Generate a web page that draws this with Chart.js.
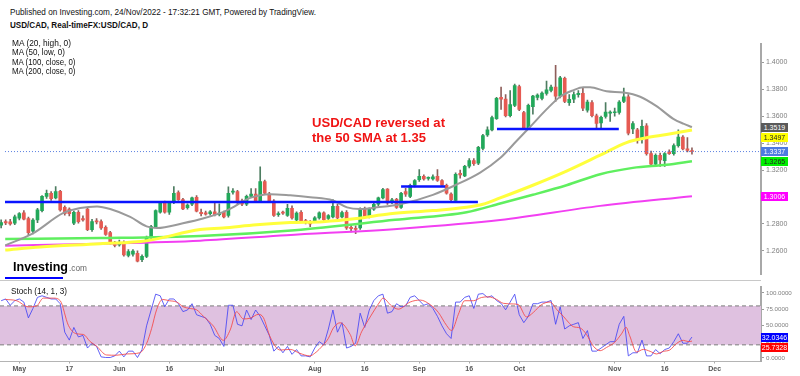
<!DOCTYPE html>
<html><head><meta charset="utf-8">
<script src="https://cdn.jsdelivr.net/npm/chart.js@4.4.0/dist/chart.umd.min.js"></script>
<style>
html,body{margin:0;padding:0;background:#fff;}
body{width:800px;height:376px;position:relative;overflow:hidden;font-family:"Liberation Sans",Arial,sans-serif;}
.t{position:absolute;white-space:nowrap;transform-origin:0 50%;color:#111;}
canvas{position:absolute;left:0;}
.tag{position:absolute;left:761px;width:27px;height:9px;line-height:9px;text-align:center;font-size:7px;overflow:hidden;}
</style></head><body>
<canvas id="main" width="800" height="243" style="top:38px;width:800px;height:243px"></canvas>
<canvas id="stoch" width="800" height="95" style="top:281px;width:800px;height:95px"></canvas>
<div style="position:absolute;left:0;top:280px;width:761px;height:1px;background:#c8c8c8"></div>
<div class="t" data-w="306" style="left:10px;top:7.5px;font-size:9px;line-height:9px">Published on Investing.com, 24/Nov/2022 - 17:32:21 GMT, Powered by TradingView.</div>
<div class="t" data-w="138" style="left:10px;top:21px;font-size:9px;line-height:9px;font-weight:bold">USD/CAD, Real-timeFX:USD/CAD, D</div>
<div class="t" data-w="59" style="left:11.5px;top:38.5px;font-size:9px;line-height:9px">MA (20, high, 0)</div>
<div class="t" data-w="53" style="left:11.5px;top:48px;font-size:9px;line-height:9px">MA (50, low, 0)</div>
<div class="t" data-w="63.5" style="left:11.5px;top:57.5px;font-size:9px;line-height:9px">MA (100, close, 0)</div>
<div class="t" data-w="63.5" style="left:11.5px;top:66.5px;font-size:9px;line-height:9px">MA (200, close, 0)</div>
<div class="t" data-w="133" style="left:312px;top:115.8px;font-size:13px;line-height:13px;font-weight:bold;color:#f01414">USD/CAD reversed at</div>
<div class="t" data-w="114" style="left:312px;top:130.8px;font-size:13px;line-height:13px;font-weight:bold;color:#f01414">the 50 SMA at 1.35</div>
<div class="t" data-w="56" style="left:11px;top:286.5px;font-size:9px;line-height:9px">Stoch (14, 1, 3)</div>
<div class="t" data-w="55" style="left:13px;top:259.5px;font-size:13px;line-height:13px;font-weight:bold;color:#000">Investing</div>
<div class="t" data-w="18" style="left:68.5px;top:263.5px;font-size:9px;line-height:9px;color:#666">.com</div>
<div style="position:absolute;left:5px;top:277px;width:58px;height:2px;background:#0000ff"></div>
<script>
// ---------- data ----------
const firstIdx = -4; // trading-day index of first candle (0 = 2 May 2022)
const opens = [
1.2790,1.2817,1.2815,1.2805,1.2842,1.2882,1.2840,1.2747,1.2829,1.2899,
1.3005,1.3028,1.2993,1.3042,1.2923,1.2911,1.2805,1.2887,1.2840,1.2911,
1.2758,1.2820,1.2817,1.2775,1.2735,1.2660,1.2645,1.2660,1.2567,1.2575,
1.2582,1.2535,1.2559,1.2700,1.2780,1.2887,1.2958,1.2887,1.2958,1.3033,
1.2980,1.2920,1.2946,1.2998,1.2887,1.2882,1.2876,1.2890,1.2868,1.2887,
1.2864,1.3035,1.3040,1.2970,1.2946,1.3005,1.3022,1.2970,1.3115,1.3022,
1.2970,1.2868,1.2882,1.2864,1.2915,1.2829,1.2887,1.2825,1.2815,1.2820,
1.2845,1.2882,1.2840,1.2852,1.2930,1.2852,1.2887,1.2775,1.2768,1.2770,
1.2910,1.2855,1.2910,1.2946,1.2993,1.3058,1.2965,1.2982,1.2923,1.3040,
1.3005,1.3087,1.3128,1.3153,1.3138,1.3134,1.3153,1.3122,1.3087,1.3022,
1.2975,1.3175,1.3157,1.3228,1.3270,1.3250,1.3360,1.3460,1.3498,1.3582,
1.3740,1.3727,1.3603,1.3680,1.3820,1.3627,1.3510,1.3670,1.3739,1.3732,
1.3768,1.3791,1.3815,1.3749,1.3880,1.3700,1.3725,1.3760,1.3770,1.3645,
1.3700,1.3603,1.3550,1.3598,1.3622,1.3625,1.3627,1.3709,1.3744,1.3505,
1.3498,1.3430,1.3528,1.3322,1.3244,1.3310,1.3270,1.3335,1.3322,1.3381,
1.3445,1.3357,1.3340];
const highs = [
1.2830,1.2830,1.2835,1.2865,1.2885,1.2900,1.2850,1.2840,1.2915,1.3010,
1.3052,1.3040,1.3077,1.3050,1.2935,1.2920,1.2895,1.2900,1.2860,1.2920,
1.2835,1.2840,1.2830,1.2785,1.2745,1.2670,1.2680,1.2675,1.2610,1.2610,
1.2600,1.2570,1.2710,1.2790,1.2905,1.2965,1.2970,1.2965,1.3077,1.3045,
1.2990,1.2950,1.3000,1.3010,1.2910,1.2895,1.2900,1.2958,1.2950,1.2895,
1.3075,1.3063,1.3050,1.2985,1.3015,1.3063,1.3063,1.3223,1.3125,1.3035,
1.2980,1.2890,1.2895,1.2945,1.2935,1.2890,1.2900,1.2835,1.2825,1.2855,
1.2890,1.2890,1.2870,1.2980,1.2945,1.2895,1.2900,1.2790,1.2785,1.2920,
1.2925,1.2920,1.2955,1.3000,1.3065,1.3062,1.2990,1.2990,1.3035,1.3065,
1.3095,1.3130,1.3204,1.3165,1.3150,1.3165,1.3204,1.3130,1.3095,1.3030,
1.3180,1.3200,1.3235,1.3285,1.3285,1.3375,1.3465,1.3520,1.3600,1.3740,
1.3815,1.3760,1.3790,1.3838,1.3830,1.3635,1.3690,1.3755,1.3765,1.3780,
1.3860,1.3830,1.3977,1.3895,1.3890,1.3760,1.3780,1.3790,1.3808,1.3720,
1.3715,1.3615,1.3600,1.3700,1.3640,1.3660,1.3715,1.3808,1.3760,1.3560,
1.3510,1.3570,1.3545,1.3340,1.3320,1.3325,1.3330,1.3350,1.3395,1.3498,
1.3455,1.3440,1.3365];
const lows = [
1.2770,1.2795,1.2790,1.2795,1.2830,1.2830,1.2720,1.2725,1.2810,1.2890,
1.2990,1.2975,1.2985,1.2895,1.2865,1.2860,1.2795,1.2805,1.2820,1.2750,
1.2745,1.2800,1.2760,1.2715,1.2650,1.2630,1.2635,1.2560,1.2555,1.2560,
1.2518,1.2520,1.2550,1.2690,1.2775,1.2880,1.2880,1.2870,1.2950,1.2975,
1.2905,1.2910,1.2935,1.2890,1.2860,1.2865,1.2865,1.2860,1.2860,1.2845,
1.2850,1.3020,1.2950,1.2935,1.2935,1.2995,1.2960,1.2960,1.3020,1.2960,
1.2855,1.2855,1.2870,1.2855,1.2835,1.2820,1.2810,1.2800,1.2780,1.2810,
1.2835,1.2825,1.2830,1.2845,1.2835,1.2845,1.2760,1.2740,1.2728,1.2760,
1.2850,1.2845,1.2900,1.2935,1.2985,1.2945,1.2950,1.2915,1.2915,1.3005,
1.2995,1.3075,1.3115,1.3125,1.3125,1.3125,1.3115,1.3080,1.3020,1.2960,
1.2960,1.3140,1.3150,1.3215,1.3235,1.3240,1.3350,1.3450,1.3490,1.3575,
1.3650,1.3595,1.3595,1.3670,1.3640,1.3502,1.3505,1.3615,1.3720,1.3720,
1.3755,1.3780,1.3709,1.3735,1.3700,1.3680,1.3700,1.3740,1.3640,1.3630,
1.3595,1.3505,1.3505,1.3585,1.3560,1.3600,1.3615,1.3700,1.3460,1.3470,
1.3400,1.3400,1.3310,1.3230,1.3235,1.3226,1.3226,1.3315,1.3310,1.3370,
1.3350,1.3335,1.3318];
const closes = [
1.2810,1.2808,1.2800,1.2852,1.2876,1.2835,1.2735,1.2829,1.2904,1.3005,
1.3028,1.2988,1.3040,1.2904,1.2876,1.2876,1.2887,1.2817,1.2829,1.2758,
1.2817,1.2815,1.2770,1.2723,1.2660,1.2641,1.2664,1.2570,1.2594,1.2599,
1.2523,1.2559,1.2700,1.2780,1.2899,1.2958,1.2887,1.2958,1.3028,1.2980,
1.2911,1.2940,1.2993,1.2895,1.2876,1.2872,1.2890,1.2868,1.2880,1.2852,
1.3028,1.3044,1.2958,1.2946,1.3005,1.3022,1.2970,1.3115,1.3028,1.2970,
1.2864,1.2876,1.2880,1.2915,1.2845,1.2880,1.2817,1.2810,1.2800,1.2845,
1.2882,1.2832,1.2862,1.2930,1.2845,1.2885,1.2770,1.2765,1.2760,1.2910,
1.2855,1.2910,1.2946,1.2993,1.3055,1.2955,1.2978,1.2923,1.3028,1.3020,
1.3087,1.3122,1.3153,1.3134,1.3140,1.3150,1.3122,1.3087,1.3028,1.2980,
1.3169,1.3164,1.3228,1.3270,1.3248,1.3369,1.3455,1.3498,1.3590,1.3732,
1.3725,1.3603,1.3686,1.3826,1.3650,1.3509,1.3680,1.3749,1.3756,1.3771,
1.3796,1.3815,1.3749,1.3885,1.3709,1.3725,1.3760,1.3770,1.3660,1.3705,
1.3603,1.3545,1.3592,1.3630,1.3630,1.3632,1.3705,1.3744,1.3474,1.3545,
1.3418,1.3525,1.3322,1.3244,1.3310,1.3275,1.3322,1.3322,1.3381,1.3445,
1.3357,1.3345,1.3337];

const ma20Idx = [-3.1,3,9.6,13.4,17.1,20,24.4,28,30.3,36,40.4,45.7,50.8,55.2,59.6,64,69,72.1,75,78.7,83.8,91,95.9,101.4,105.8,109.4,112.4,116,119,121.8,124.1,125.6,129.2,132.9,136.6,140.2,143.9,146.1,148];
const ma20Val = [1.2641,1.2730,1.2880,1.2918,1.2930,1.2911,1.2852,1.2782,1.2770,1.2805,1.2840,1.2901,1.2993,1.3021,1.3012,1.2998,1.2974,1.2923,1.2911,1.2923,1.2946,1.3016,1.3087,1.3181,1.3289,1.3415,1.3521,1.3650,1.3744,1.3791,1.3815,1.3815,1.3784,1.3775,1.3744,1.3674,1.3580,1.3544,1.3519];
const ma50Idx = [-3.1,4.6,17.8,28,39.8,44.8,52.2,59.6,66.8,74.2,81.6,91,98.4,102,105.8,113,120.4,127.8,133.6,138,142.4,148];
const ma50Val = [1.2606,1.2629,1.2653,1.2676,1.2758,1.2770,1.2794,1.2810,1.2817,1.2840,1.2875,1.2899,1.2923,1.2946,1.2993,1.3087,1.3192,1.3310,1.3404,1.3439,1.3463,1.3497];
const ma100Idx = [-3.1,17.8,39.8,60.6,82.7,98.4,105.8,113,120.4,127.8,135,142.4,148];
const ma100Val = [1.2688,1.2695,1.2711,1.2754,1.2831,1.2887,1.2951,1.3016,1.3087,1.3169,1.3216,1.3239,1.3265];
const ma200Idx = [-3.1,17.8,39.8,58.8,83.8,105.8,127.8,148];
const ma200Val = [1.2638,1.2653,1.2676,1.2716,1.2765,1.2829,1.2934,1.3006];

const levelStart = [-3.15, 84.0, 105.1];
const levelEnd   = [100.9, 93.7, 131.9];
const levelPrice = [1.2963, 1.3077, 1.3505];

const stochK = [
88,90.7,81,88,90.7,85.9,61.5,76.1,93.2,95.6,
93.2,90.7,90.7,83.4,39.5,27.3,46.8,32.2,34.6,15.1,
22.5,17.6,1.5,0.5,0.5,3,10.3,1.5,10.3,10.3,
0.5,12.7,49.3,73.7,98.1,95.6,78.6,90.7,90.7,83.4,
71.2,73.7,83.4,66.4,63.9,61.5,51.7,34.6,29.8,17.6,
81,81,51.7,49.3,73.7,59,73.7,63.9,49.3,34.6,
10.3,17.6,7.8,17.6,5.4,12.7,3,3,1.5,15.1,
24.9,20,44.4,73.7,39.5,54.2,15.1,17.6,22.5,68.8,
46.8,73.7,88.3,95.6,98.1,68.8,71.2,83.4,78.6,80,
93.2,95.6,88.3,81,83.4,76.1,63.9,49.3,37.1,29.8,
85.9,85.9,93.2,95.6,76.1,98.1,99,93.2,95.6,88.3,
84,74,85.9,98.1,66.4,54.2,63.9,83.4,83.4,85.9,
85.9,88.3,51.7,78.6,44.4,49.3,51.7,54.2,29.8,42,
10.3,10.3,15.1,20,24.9,24.9,51.7,63.9,3,7.8,
7.8,27.3,3,3,12.7,6.4,12.7,15.1,24.9,37.1,
22.5,22.5,32.0346];
const stochDIdx = [-3.1,-0.6,2,3.8,5.3,7.5,9,10.8,12.6,14.1,15.6,17,19.2,21.4,23.6,26.5,28,29.1,30.2,31.5,33,34.6,36.1,37.6,39,40.5,42.7,44.9,46.4,47.8,49.3,50.8,52.6,53.7,55.2,57.4,59.6,61.7,63.9,65,66.9,68,69.1,70.6,72.8,73.9,75.3,77.2,79.3,80,81.9,83.4,86,88.2,90.4,92.2,94,95.1,96.6,98,99.9,101.7,103.2,105,106.5,108.7,109.8,111.6,113.1,114.9,116.8,118.3,119.7,120.8,121.9,123.4,124.8,126.3,127.8,129.2,131,132.5,133.5,134.3,135.8,137.3,138.8,140.2,141.7,143.1,144.6,146.1,147.2,148];
const stochDVal = [90,88,78.6,80,92,92,88,50,37,36,25,18,4.4,4,6,7.8,22,45,74,90,88,86,78.6,76,74,64,49,27,43,71,60,61,67,62,32,12,13,7,3,7,20,30,46,54,36,18.5,40,63,86,92,80,75,86,89,82,70,50,42,67,88,88,93,94,90,84,83,82,63,70,82,86,74,64,55,48,46,36,18,11,16,24,37,47,34,9,13,10,6,10,12,22,27,25,25.7328];

const xTickIdx = [0,11,22,33,44,65,76,88,99,110,131,142,153];
const xTickLabels = ['May','17','Jun','16','Jul','Aug','16','Sep','16','Oct','Nov','16','Dec'];
const priceTicks = [1.26,1.28,1.30,1.32,1.34,1.36,1.38,1.40];
const stochTicks = [0,25,50,75,100];
const bandLevels = [80,20];

// ---------- layout constants ----------
const X_MIN = -4.25, X_MAX = 163.19;
const FONT = "'Liberation Sans', Arial, sans-serif";
Chart.defaults.font.family = FONT;

const lastI = firstIdx + closes.length - 1;
const bodies = [], wicks = [], bodyCol = [], wickCol = [];
for (let k = 0; k < closes.length; k++) {
  const x = firstIdx + k;
  bodies.push({x, y:[opens[k], closes[k]]});
  wicks.push({x, y:[lows[k], highs[k]]});
  const up = closes[k] >= opens[k];
  bodyCol.push(up ? '#22a85a' : '#e65a52');
  wickCol.push(up ? '#4d7d61' : '#8f5f5b');
}
const pairs = (ix, v) => ix.map((x, k) => ({x, y:v[k]}));
const lineDs = (data, color, width, order, extra) => Object.assign({
  type:'line', data, borderColor:color, borderWidth:width, pointRadius:0,
  fill:false, order, cubicInterpolationMode:'monotone'}, extra||{});

const datasets = [
  {type:'bar', data:wicks, backgroundColor:wickCol, barThickness:1, grouped:false, order:12, borderWidth:0},
  {type:'bar', data:bodies, backgroundColor:bodyCol, barThickness:3, grouped:false, order:11, borderWidth:0, minBarLength:1},
  lineDs(pairs(ma200Idx, ma200Val), '#f23ff2', 2, 6),
  lineDs(pairs(ma100Idx, ma100Val), '#5fef5f', 2.5, 5),
  lineDs(pairs(ma50Idx, ma50Val), '#ffff3c', 3, 4),
  lineDs(pairs(ma20Idx, ma20Val), '#9a9a9a', 2, 3),
  lineDs([{x:-3.15,y:closes[closes.length-1]},{x:X_MAX,y:closes[closes.length-1]}], '#5a7fe0', 1, 2, {borderDash:[1,2]})
];
for (let k = 0; k < levelPrice.length; k++) {
  datasets.push(lineDs([{x:levelStart[k],y:levelPrice[k]},{x:levelEnd[k],y:levelPrice[k]}], '#0a14ff', 2.5, 1));
}

const mainChart = new Chart(document.getElementById('main'), {
  type:'bar',
  data:{datasets},
  options:{
    responsive:false, animation:false, events:[],
    layout:{padding:0},
    plugins:{legend:{display:false}, tooltip:{enabled:false}},
    scales:{
      x:{type:'linear', min:X_MIN, max:X_MAX, display:false, offset:false},
      y:{type:'linear', position:'right', min:1.24225, max:1.41338,
        afterFit(s){ s.width = 39; },
        afterBuildTicks(s){ s.ticks = priceTicks.map(v => ({value:v})); },
        ticks:{callback:v => Number(v).toFixed(4), font:{size:7}, color:'#808080', padding:2, autoSkip:false},
        grid:{drawOnChartArea:false, tickLength:3, color:'#9a9a9a'},
        border:{color:'#a8a8a8', width:2}
      }
    }
  }
});

const stochDs = [
  lineDs([{x:X_MIN,y:bandLevels[0]},{x:X_MAX,y:bandLevels[0]}], '#7a7a7a', 1, 10, {fill:'+1', backgroundColor:'#dfc1e0', borderDash:[4,3]}),
  lineDs([{x:X_MIN,y:bandLevels[1]},{x:X_MAX,y:bandLevels[1]}], '#7a7a7a', 1, 9, {borderDash:[4,3]}),
  lineDs(stochK.map((v,k) => ({x:firstIdx+k, y:v})), 'rgba(70,70,245,0.85)', 1, 2, {cubicInterpolationMode:'default', tension:0}),
  lineDs(pairs(stochDIdx, stochDVal), 'rgba(245,70,70,0.85)', 1, 1)
];
const stochChart = new Chart(document.getElementById('stoch'), {
  type:'line',
  data:{datasets:stochDs},
  options:{
    responsive:false, animation:false, events:[],
    layout:{padding:{top:1}},
    plugins:{legend:{display:false}, tooltip:{enabled:false}},
    scales:{
      x:{type:'linear', min:X_MIN, max:X_MAX, offset:false,
        afterFit(s){ s.height = 14.5; },
        afterBuildTicks(s){ s.ticks = xTickIdx.map(v => ({value:v})); },
        ticks:{callback:v => xTickLabels[xTickIdx.indexOf(v)], autoSkip:false, maxRotation:0, font:{size:7, weight:'bold'}, color:'#555', padding:1},
        grid:{drawOnChartArea:false, tickLength:2, color:'#aaa'},
        border:{color:'#b4b4b4', width:1}
      },
      y:{type:'linear', position:'right', min:-5.65, max:109.57,
        afterFit(s){ s.width = 39; },
        afterBuildTicks(s){ s.ticks = stochTicks.map(v => ({value:v})); },
        ticks:{callback:v => Number(v).toFixed(4), font:{size:6.2}, color:'#808080', padding:2, autoSkip:false},
        grid:{drawOnChartArea:false, tickLength:3, color:'#9a9a9a'},
        border:{color:'#a8a8a8', width:2}
      }
    }
  }
});

// ---------- value tags on the right axis ----------
function addTags(list, scale, top) {
  list.forEach(t => t.y = top + scale.getPixelForValue(t.v));
  list.sort((a,b) => a.y - b.y);
  for (let k = 1; k < list.length; k++) if (list[k].y - list[k-1].y < 10) list[k].y = list[k-1].y + 10;
  list.forEach(t => {
    const d = document.createElement('div');
    d.className = 'tag';
    d.style.top = (t.y - 4.5) + 'px';
    d.style.background = t.bg; d.style.color = t.fg;
    d.textContent = t.v.toFixed(4);
    document.body.appendChild(d);
  });
}
addTags([
  {v:ma20Val[ma20Val.length-1], bg:'#5a5a5a', fg:'#fff'},
  {v:ma50Val[ma50Val.length-1], bg:'#ffff00', fg:'#222'},
  {v:closes[closes.length-1], bg:'#4f7be0', fg:'#fff'},
  {v:ma100Val[ma100Val.length-1], bg:'#00ee00', fg:'#222'},
  {v:ma200Val[ma200Val.length-1], bg:'#ff00ff', fg:'#fff'}
], mainChart.scales.y, 38);
addTags([
  {v:stochK[stochK.length-1], bg:'#0000ff', fg:'#fff'},
  {v:stochDVal[stochDVal.length-1], bg:'#ff0000', fg:'#fff'}
], stochChart.scales.y, 281);

// fit text widths
document.querySelectorAll('[data-w]').forEach(el => {
  const nat = el.getBoundingClientRect().width;
  el.style.transform = 'scaleX(' + (parseFloat(el.dataset.w) / nat) + ')';
});
</script>
</body></html>
